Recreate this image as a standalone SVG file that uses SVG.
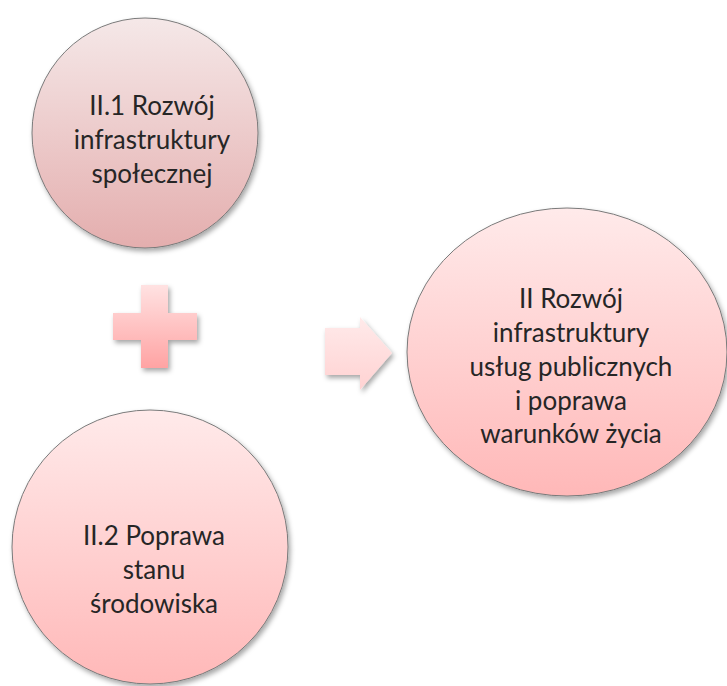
<svg xmlns="http://www.w3.org/2000/svg" width="727" height="686" viewBox="0 0 727 686">
<style>
.lbl{font-family:Lato,"Open Sans","Liberation Sans",sans-serif;font-size:26px;fill:#262626;text-anchor:middle}
.node{stroke:#7a7a7a;stroke-width:1}
</style>
<defs>
<linearGradient id="g1" x1="0" y1="0" x2="0" y2="1">
<stop offset="0" stop-color="#f5e8e8"/><stop offset="1" stop-color="#e4aeae"/>
</linearGradient>
<linearGradient id="g2" x1="0" y1="0" x2="0" y2="1">
<stop offset="0" stop-color="#ffeaea"/><stop offset="1" stop-color="#ffb8b8"/>
</linearGradient>
<linearGradient id="gp" x1="0" y1="0" x2="0" y2="1">
<stop offset="0" stop-color="#ffe2e2"/><stop offset="1" stop-color="#ffa3a3"/>
</linearGradient>
<linearGradient id="ga" x1="0" y1="0" x2="0" y2="1">
<stop offset="0" stop-color="#ffeaea"/><stop offset="1" stop-color="#ffd2d2"/>
</linearGradient>
<filter id="sh" x="-10%" y="-10%" width="125%" height="125%">
<feDropShadow dx="2" dy="3" stdDeviation="2.5" flood-color="#000" flood-opacity="0.35"/>
</filter>
</defs>
<g id="node1">
<ellipse class="node" cx="145" cy="133" rx="113" ry="115" fill="url(#g1)" filter="url(#sh)"/>
<text class="lbl" x="152" y="115">II.1 Rozwój</text>
<text class="lbl" x="152" y="149">infrastruktury</text>
<text class="lbl" x="152" y="183">społecznej</text>
</g>
<g id="node2">
<ellipse class="node" cx="150" cy="547" rx="138" ry="137" fill="url(#g2)" filter="url(#sh)"/>
<text class="lbl" x="154" y="545">II.2 Poprawa</text>
<text class="lbl" x="154" y="579">stanu</text>
<text class="lbl" x="154" y="613">środowiska</text>
</g>
<g id="node3">
<ellipse class="node" cx="567" cy="352" rx="160" ry="144" fill="url(#g2)" filter="url(#sh)"/>
<text class="lbl" x="571" y="308">II Rozwój</text>
<text class="lbl" x="571" y="342">infrastruktury</text>
<text class="lbl" x="571" y="376">usług publicznych</text>
<text class="lbl" x="571" y="410">i poprawa</text>
<text class="lbl" x="571" y="443">warunków życia</text>
</g>
<g id="connectors">
<path d="M141 285H168V313H197V340H168V368H141V340H113V313H141Z" fill="url(#gp)" filter="url(#sh)"/>
<path d="M325 328H360V317L392 353L360 390V375H325Z" fill="url(#ga)" filter="url(#sh)"/>
</g>
</svg>
